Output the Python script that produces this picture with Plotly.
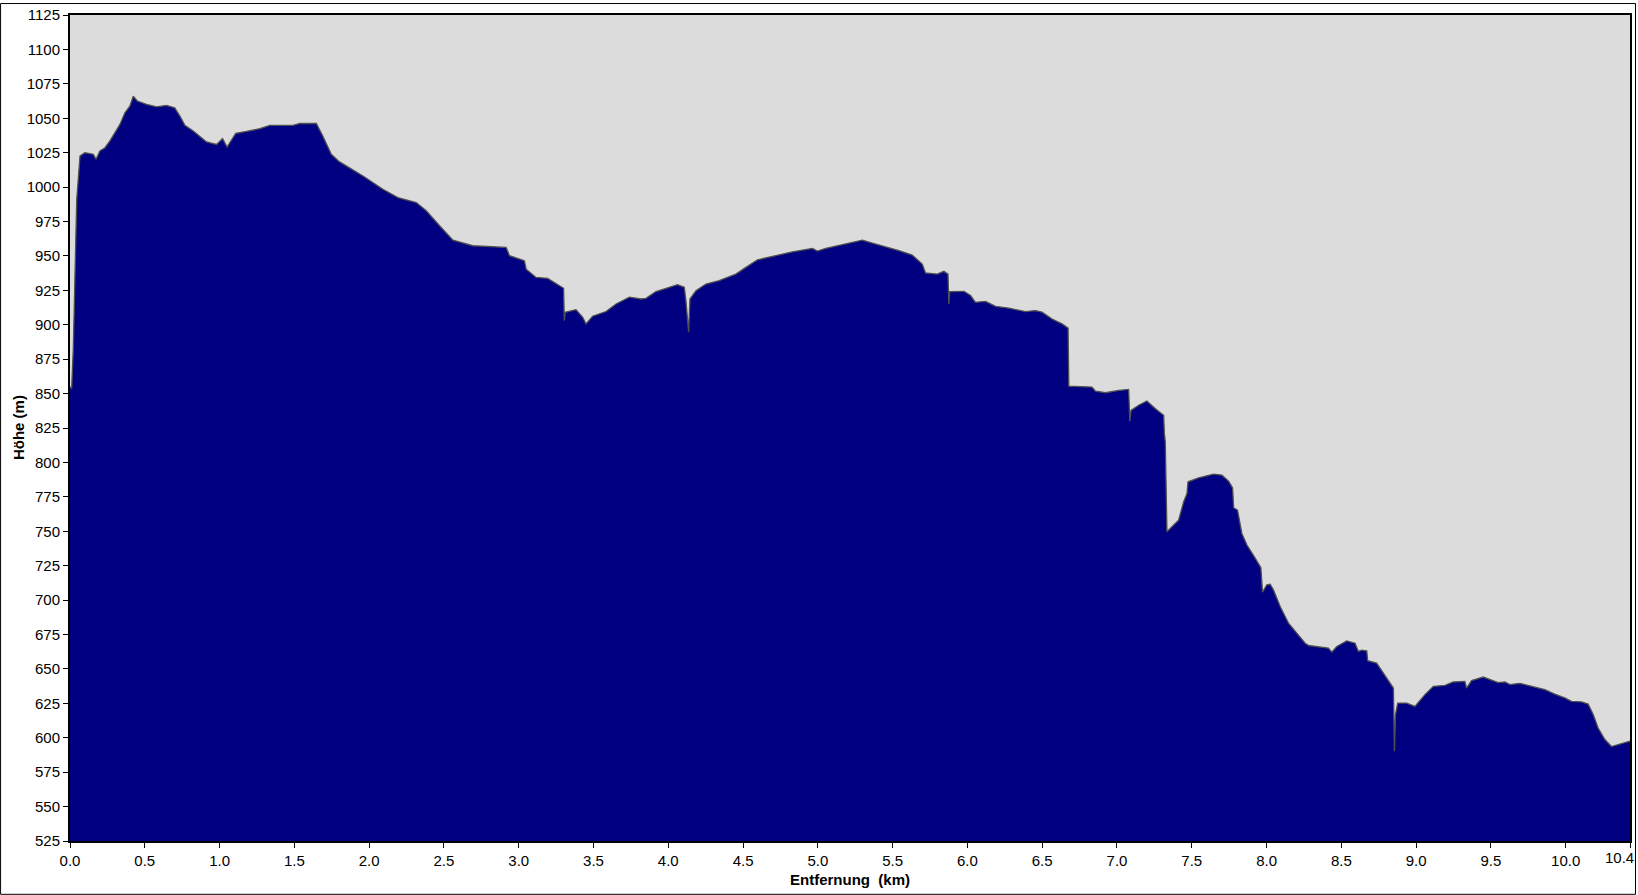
import plotly.graph_objects as go

# Distance along the route (km)
dist_km = [
    0.000, 0.011, 0.022, 0.045, 0.067, 0.100, 0.156, 0.174, 0.200, 0.234,
    0.267, 0.300, 0.334, 0.367, 0.400, 0.423, 0.450, 0.512, 0.579, 0.645,
    0.700, 0.735, 0.768, 0.824, 0.913, 0.980, 1.020, 1.050, 1.108, 1.180,
    1.269, 1.336, 1.490, 1.536, 1.647, 1.690, 1.747, 1.800, 1.870, 1.959,
    2.092, 2.192, 2.315, 2.382, 2.471, 2.560, 2.693, 2.916, 2.938, 3.038,
    3.050, 3.116, 3.194, 3.294, 3.300, 3.305, 3.311, 3.383, 3.428, 3.450,
    3.494, 3.584, 3.651, 3.740, 3.818, 3.851, 3.918, 3.995, 4.062, 4.107,
    4.118, 4.136, 4.145, 4.185, 4.252, 4.340, 4.452, 4.519, 4.597, 4.719,
    4.830, 4.964, 4.997, 5.053, 5.187, 5.298, 5.364, 5.454, 5.543, 5.631,
    5.698, 5.720, 5.798, 5.843, 5.870, 5.876, 5.882, 5.977, 6.021, 6.054,
    6.121, 6.188, 6.277, 6.388, 6.455, 6.499, 6.566, 6.633, 6.673, 6.678,
    6.833, 6.856, 6.923, 7.012, 7.078, 7.086, 7.094, 7.145, 7.200, 7.257,
    7.312, 7.317, 7.323, 7.334, 7.368, 7.412, 7.446, 7.468, 7.475, 7.546,
    7.646, 7.702, 7.746, 7.773, 7.780, 7.806, 7.835, 7.869, 7.925, 7.962,
    7.973, 8.002, 8.024, 8.046, 8.091, 8.147, 8.202, 8.258, 8.281, 8.347,
    8.414, 8.436, 8.470, 8.536, 8.592, 8.614, 8.636, 8.670, 8.676, 8.736,
    8.803, 8.848, 8.855, 8.862, 8.877, 8.937, 8.992, 9.059, 9.115, 9.193,
    9.248, 9.326, 9.337, 9.371, 9.449, 9.505, 9.549, 9.594, 9.627, 9.694,
    9.771, 9.861, 9.927, 9.994, 10.039, 10.106, 10.150, 10.184, 10.217, 10.262,
    10.306, 10.373, 10.430,
]

# Elevation (m)
elev_m = [
    855.0, 853.5, 882.5, 991.0, 1022.6, 1025.0, 1023.8, 1020.2, 1026.2, 1028.6,
    1033.5, 1039.5, 1045.5, 1054.0, 1058.8, 1066.0, 1062.5, 1060.0, 1058.3, 1059.3,
    1057.6, 1051.6, 1044.8, 1040.7, 1032.8, 1031.0, 1035.2, 1029.1, 1039.0, 1040.4,
    1042.4, 1044.8, 1044.8, 1046.2, 1046.2, 1037.1, 1023.8, 1018.5, 1014.1, 1008.1,
    998.4, 992.4, 988.8, 982.8, 971.9, 961.5, 957.4, 956.2, 950.2, 946.5,
    940.4, 934.4, 933.7, 927.2, 926.5, 903.0, 909.0, 911.0, 905.4, 900.6,
    906.2, 909.6, 915.1, 920.0, 918.7, 919.2, 924.1, 926.7, 929.1, 927.2,
    917.5, 894.6, 918.7, 924.8, 929.6, 932.0, 936.8, 941.7, 947.2, 950.2,
    953.0, 955.4, 953.5, 955.4, 958.6, 961.5, 959.3, 956.7, 953.8, 950.6,
    944.1, 937.6, 936.8, 938.8, 936.8, 915.1, 924.1, 924.3, 921.2, 916.3,
    917.0, 913.4, 912.0, 909.6, 910.3, 909.1, 904.2, 900.6, 897.5, 855.4,
    854.7, 851.8, 850.6, 852.3, 853.0, 829.9, 837.8, 841.5, 844.6, 839.0,
    834.2, 820.9, 814.9, 749.6, 753.3, 758.1, 771.4, 777.4, 785.9, 788.8,
    791.5, 790.7, 786.4, 781.5, 767.0, 765.4, 748.4, 740.0, 730.3, 723.6,
    705.7, 711.0, 711.5, 707.4, 695.3, 683.2, 676.0, 668.7, 667.0, 666.3,
    665.1, 662.2, 666.3, 670.4, 668.7, 662.7, 663.6, 663.2, 656.0, 654.2,
    643.4, 636.1, 590.2, 616.8, 625.2, 625.2, 622.8, 631.3, 637.3, 638.1,
    640.5, 641.0, 636.1, 641.5, 644.1, 641.5, 640.0, 640.5, 638.6, 639.5,
    637.3, 634.9, 631.7, 628.9, 626.4, 626.0, 624.5, 616.8, 607.1, 598.7,
    593.6, 595.5, 597.5,
]

# Axis ticks
y_ticks = list(range(525, 1126, 25))
x_ticks = [0.0, 0.5, 1.0, 1.5, 2.0, 2.5, 3.0, 3.5, 4.0, 4.5, 5.0, 5.5,
           6.0, 6.5, 7.0, 7.5, 8.0, 8.5, 9.0, 9.5, 10.0, 10.43]
x_tick_labels = ["0.0", "0.5", "1.0", "1.5", "2.0", "2.5", "3.0", "3.5", "4.0",
                 "4.5", "5.0", "5.5", "6.0", "6.5", "7.0", "7.5", "8.0", "8.5",
                 "9.0", "9.5", "10.0", ""]
x_end_label = "10.4"
x_end = 10.43

FONT = "Liberation Sans, Arial, sans-serif"

fig = go.Figure()
fig.add_trace(go.Scatter(
    x=dist_km, y=elev_m, mode="lines",
    fill="tozeroy", fillcolor="#000080",
    line=dict(color="#505050", width=1.3),
    hoverinfo="x+y",
))

fig.update_layout(
    width=1638, height=895,
    margin=dict(l=70, r=6, t=12, b=54),
    paper_bgcolor="white",
    plot_bgcolor="#DCDCDC",
    showlegend=False,
    font=dict(family=FONT, size=15, color="black"),
    xaxis=dict(
        range=[0, x_end], tickmode="array", tickvals=x_ticks, ticktext=x_tick_labels,
        showgrid=False, zeroline=False, showline=True, linecolor="black", linewidth=2,
        mirror=True, ticks="outside", ticklen=5, tickcolor="black", tickwidth=1,
        tickfont=dict(family=FONT, size=15, color="black"),
    ),
    yaxis=dict(
        range=[525, 1125], tickmode="array", tickvals=y_ticks,
        showgrid=False, zeroline=False, showline=True, linecolor="black", linewidth=2,
        mirror=True, ticks="outside", ticklen=5, tickcolor="black", tickwidth=1,
        tickfont=dict(family=FONT, size=15, color="black"),
    ),
    annotations=[
        dict(text="<b>Höhe (m)</b>", xref="paper", yref="paper",
             x=(18 - 70) / 1562, y=0.5, textangle=-90, showarrow=False,
             xanchor="center", yanchor="middle",
             font=dict(family=FONT, size=15, color="black")),
        dict(text="<b>Entfernung  (km)</b>", xref="paper", yref="paper",
             x=0.5, y=(841 - 880) / 829, showarrow=False,
             xanchor="center", yanchor="middle",
             font=dict(family=FONT, size=15, color="black")),
        dict(text=x_end_label, xref="x", yref="paper",
             x=x_end, y=(841 - 858) / 829, showarrow=False,
             xanchor="right", yanchor="middle", xshift=6,
             font=dict(family=FONT, size=15, color="black")),
    ],
    shapes=[
        dict(type="rect", xref="paper", yref="paper",
             x0=(0.5 - 70) / 1562, x1=(1637.5 - 70) / 1562,
             y0=(841 - 894.5) / 829, y1=1 + (12 - 0.5) / 829,
             line=dict(color="black", width=1), fillcolor="rgba(0,0,0,0)",
             layer="above"),
    ],
)

fig.write_html(
    "out.html",
    config={"displayModeBar": False},
    post_script="document.body.style.margin='0';document.body.style.overflow='hidden';",
)
